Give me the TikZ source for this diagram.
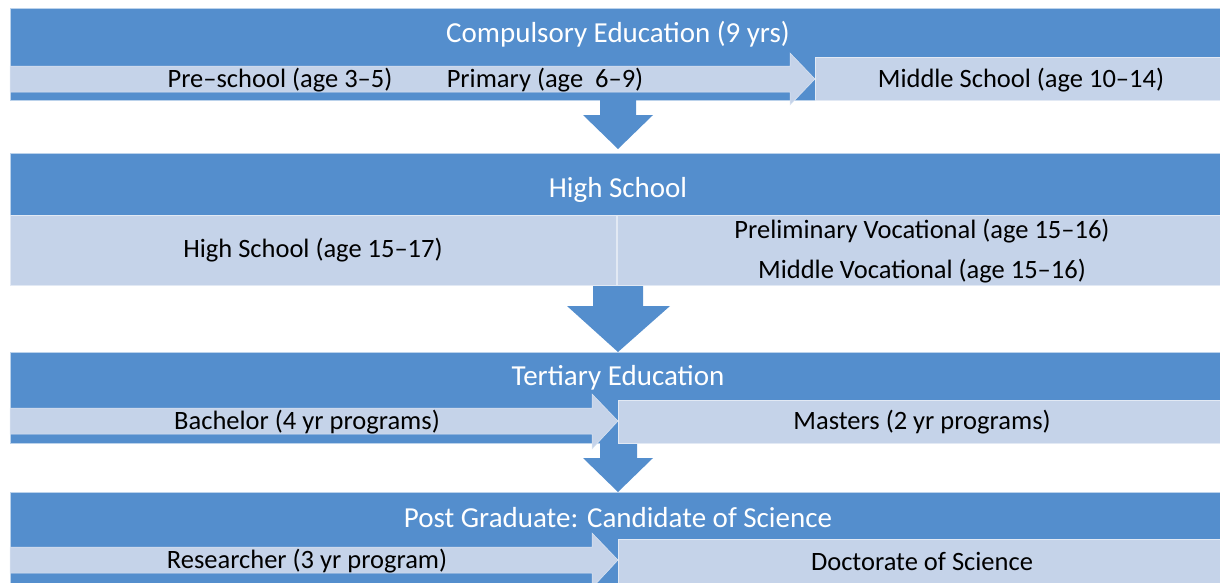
\documentclass[tikz,border=0pt]{standalone}
\usepackage{fontspec}
\setmainfont{Carlito}
\definecolor{dkb}{RGB}{84,142,205}
\definecolor{ltb}{RGB}{197,211,233}
\tikzset{
  band/.style={fill=dkb, draw=white!60!dkb, line width=0.6pt, inner sep=0pt, anchor=north west},
  lbox/.style={fill=ltb, draw=white!50!ltb, line width=0.6pt, inner sep=0pt, anchor=north west},
  hdr/.style={text=white, inner sep=0pt, yshift=-1.5pt, font=\fontsize{29}{34}\selectfont},
  lbl/.style={text=black, inner sep=0pt, yshift=-1.5pt, font=\fontsize{26.5}{31}\selectfont},
  downarr/.style={fill=dkb},
  rightarr/.style={fill=ltb, draw=white!40!ltb, line width=0.5pt},
}
\begin{document}
\begin{tikzpicture}[x=1pt,y=-1pt]
\useasboundingbox (0,0) rectangle (1220,582);
\clip (0,0) rectangle (1220,582);

% ---- bands
\node[band, minimum width=1215pt, minimum height=92pt]  (b1) at (10,8)   {};
\node[band, minimum width=1215pt, minimum height=132pt] (b2) at (10,153) {};
\node[band, minimum width=1215pt, minimum height=91pt]  (b3) at (10,352) {};
\node[band, minimum width=1215pt, minimum height=100pt] (b4) at (10,492) {};

% ---- down arrows between bands
\fill[downarr] (600,100) -- (636,100) -- (636,115) -- (653,115) -- (618,149) -- (583,115) -- (600,115) -- cycle;
\fill[downarr] (593,285) -- (643,285) -- (643,306) -- (670,306) -- (618,352) -- (567,306) -- (593,306) -- cycle;
\fill[downarr] (600,443) -- (637,443) -- (637,458) -- (653,458) -- (618,492) -- (583,458) -- (600,458) -- cycle;

% ---- light boxes
\node[lbox, minimum width=410pt, minimum height=43pt] (ms)  at (815,57)  {};
\node[lbox, minimum width=606pt, minimum height=70pt] (hsl) at (10,215)  {};
\node[lbox, minimum width=607pt, minimum height=70pt] (hsr) at (617,215) {};
\node[lbox, minimum width=607pt, minimum height=43pt] (mas) at (618,400) {};
\node[lbox, minimum width=607pt, minimum height=50pt] (doc) at (618,539) {};

% ---- light right arrows
\path[rightarr] (10,66) -- (790,66) -- (790,53) -- (815,79) -- (790,105) -- (790,92) -- (10,92) -- cycle;
\path[rightarr] (10,408) -- (592,408) -- (592,394) -- (618,421) -- (592,449) -- (592,434) -- (10,434) -- cycle;
\path[rightarr] (10,547) -- (592,547) -- (592,533) -- (618,560) -- (592,588) -- (592,573) -- (10,573) -- cycle;

% ---- headers
\node[hdr] (h1) at (618,33)  {Compulsory Education (9 yrs)};
\node[hdr] (h2) at (618,188) {High School};
\node[hdr] (h3) at (618,376) {Tertiary Education};
\node[hdr] (h4) at (618,516) {Post Graduate: Candidate of Science};

% ---- labels
\node[lbl] (t1) at (280,79)  {Pre–school (age 3–5)};
\node[lbl] (t2) at (545,79)  {Primary (age\ \ 6–9)};
\node[lbl] (t3) at (1021,79) {Middle School (age 10–14)};
\node[lbl] (t4) at (313,249) {High School (age 15–17)};
\node[lbl] (t5) at (922,230) {Preliminary Vocational (age 15–16)};
\node[lbl] (t6) at (922,270) {Middle Vocational (age 15–16)};
\node[lbl] (t7) at (307,421) {Bachelor (4 yr programs)};
\node[lbl] (t8) at (922,421) {Masters (2 yr programs)};
\node[lbl] (t9) at (307,560) {Researcher (3 yr program)};
\node[lbl] (t10) at (922,560) {Doctorate of Science};
\end{tikzpicture}
\end{document}
